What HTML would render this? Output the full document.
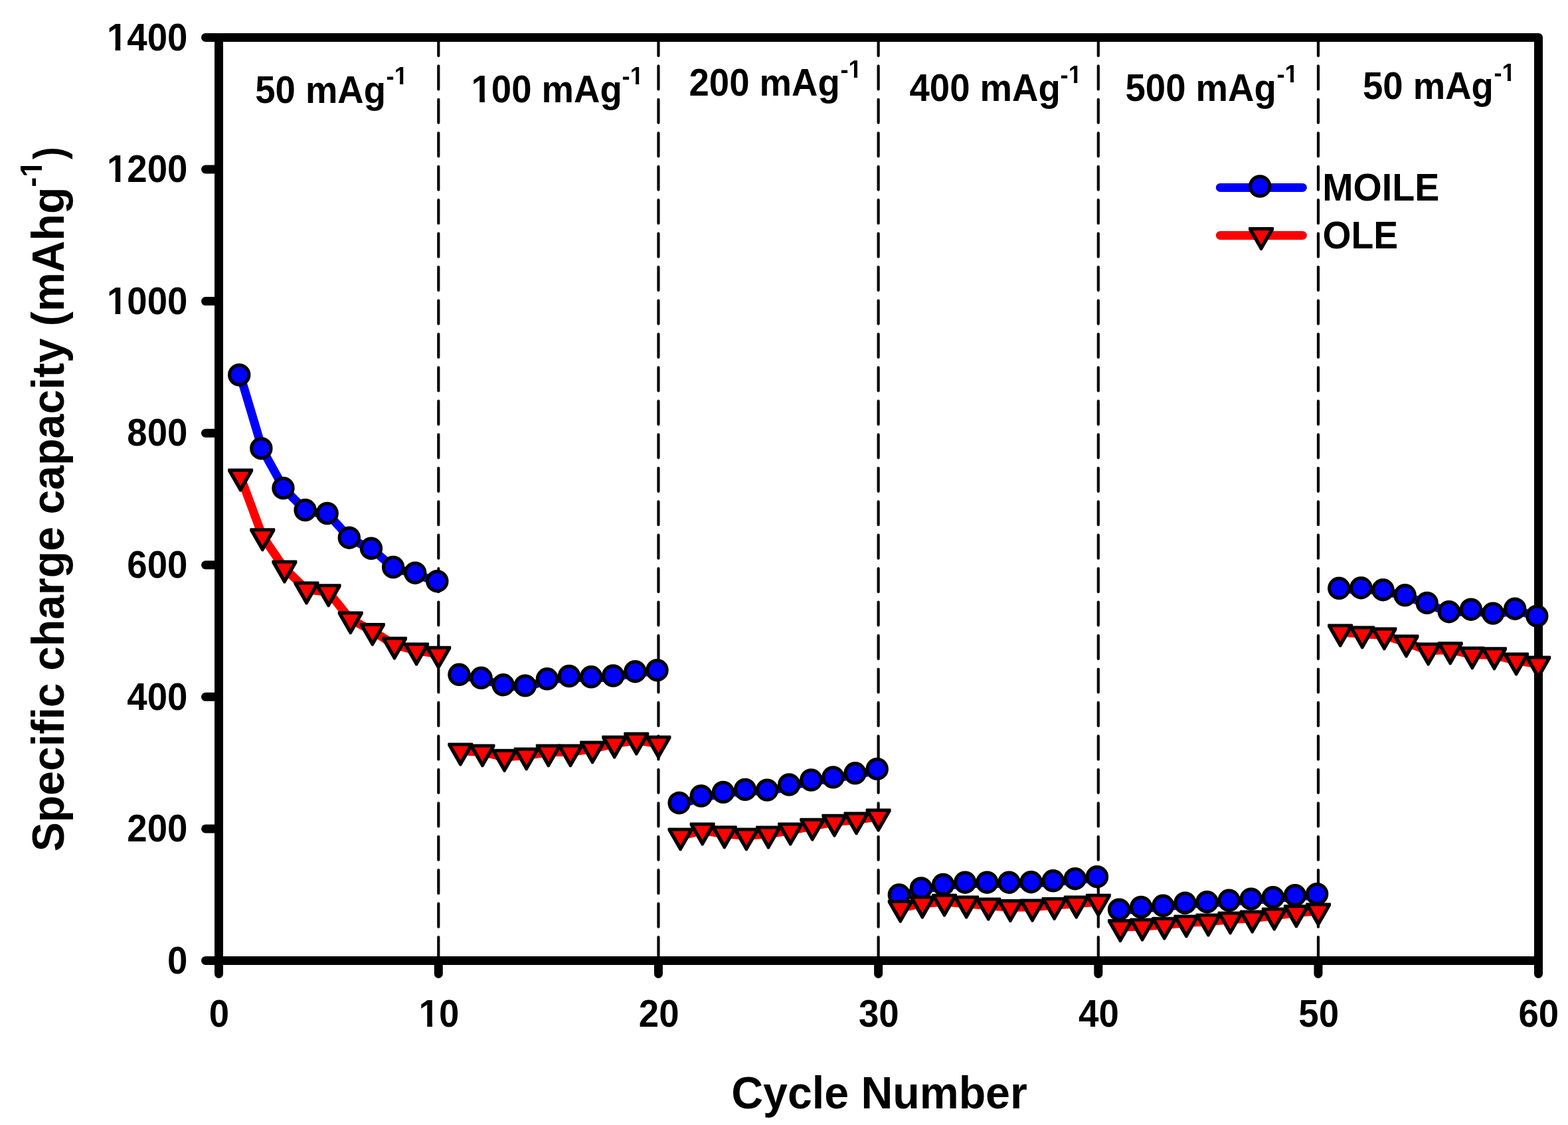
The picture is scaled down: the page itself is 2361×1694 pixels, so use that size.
<!DOCTYPE html>
<html lang="en"><head><meta charset="utf-8"><title>Rate capability: specific charge capacity vs cycle number</title>
<style>
html,body{margin:0;padding:0;background:#fff;}
body{width:2361px;height:1694px;overflow:hidden;}
svg{display:block;}
text{font-family:"Liberation Sans",Arial,Helvetica,sans-serif;font-weight:bold;font-kerning:none;fill:#000;}
</style></head><body>
<svg width="2361" height="1694" viewBox="0 0 2361 1694">
<rect width="2361" height="1694" fill="#fff"/>
<g stroke="#000" stroke-width="4.2" stroke-linecap="round" stroke-dasharray="35 15.45" stroke-dashoffset="3.05" fill="none">
<line x1="660.27" y1="52" x2="660.27" y2="1446.45"/>
<line x1="991.43" y1="52" x2="991.43" y2="1446.45"/>
<line x1="1322.6" y1="52" x2="1322.6" y2="1446.45"/>
<line x1="1653.77" y1="52" x2="1653.77" y2="1446.45"/>
<line x1="1984.93" y1="52" x2="1984.93" y2="1446.45"/>
</g>
<g stroke="#000" stroke-width="13" stroke-linecap="round" stroke-linejoin="round" fill="none">
<path d="M309.5 56.45 H2316.5 V1446.45 H309.5"/>
<path d="M329.5 56.45 V1466.45"/>
<path d="M309.5 255.02 H329.5"/>
<path d="M309.5 453.59 H329.5"/>
<path d="M309.5 652.16 H329.5"/>
<path d="M309.5 850.74 H329.5"/>
<path d="M309.5 1049.31 H329.5"/>
<path d="M309.5 1247.88 H329.5"/>
<path d="M660.27 1446.45 V1466.45"/>
<path d="M991.43 1446.45 V1466.45"/>
<path d="M1322.6 1446.45 V1466.45"/>
<path d="M1653.77 1446.45 V1466.45"/>
<path d="M1984.93 1446.45 V1466.45"/>
<path d="M2316.5 1446.45 V1466.45"/>
</g>
<g stroke="#00f" stroke-width="13" stroke-linecap="round" stroke-linejoin="round" fill="none">
<polyline points="362.12,566.35 395.24,677.05 428.36,736.85 461.48,769.85 494.6,774.85 527.72,811.55 560.84,827.65 593.96,855.85 627.08,864.55 660.2,877.05"/>
<polyline points="693.32,1017.65 726.44,1022.65 759.56,1033.15 792.68,1034.25 825.8,1024.15 858.92,1019.85 892.04,1021.15 925.16,1019.35 958.28,1013.05 991.4,1011.05"/>
<polyline points="1024.52,1210.85 1057.64,1200.35 1090.76,1194.75 1123.88,1190.75 1157,1191.45 1190.12,1183.35 1223.24,1176.35 1256.36,1172.25 1289.48,1166.15 1322.6,1159.75"/>
<polyline points="1355.72,1349.35 1388.84,1339.25 1421.96,1333.75 1455.08,1330.55 1488.2,1330.55 1521.32,1330.55 1554.44,1330.05 1587.56,1328.15 1620.68,1325.05 1653.8,1322.05"/>
<polyline points="1686.92,1371.55 1720.04,1367.85 1753.16,1365.65 1786.28,1361.55 1819.4,1360.05 1852.52,1357.65 1885.64,1355.45 1918.76,1353.05 1951.88,1349.95 1985,1347.95"/>
<polyline points="2018.12,887.65 2051.24,887.05 2084.36,890.05 2117.48,898.15 2150.6,909.75 2183.72,923.05 2216.84,919.55 2249.96,925.45 2283.08,918.55 2316.2,929.45"/>
</g>
<g fill="#00f" stroke="#000" stroke-width="5">
<circle cx="360.22" cy="564.5" r="14.7"/>
<circle cx="393.34" cy="675.2" r="14.7"/>
<circle cx="426.46" cy="735" r="14.7"/>
<circle cx="459.58" cy="768" r="14.7"/>
<circle cx="492.7" cy="773" r="14.7"/>
<circle cx="525.82" cy="809.7" r="14.7"/>
<circle cx="558.94" cy="825.8" r="14.7"/>
<circle cx="592.06" cy="854" r="14.7"/>
<circle cx="625.18" cy="862.7" r="14.7"/>
<circle cx="658.3" cy="875.2" r="14.7"/>
<circle cx="691.42" cy="1015.8" r="14.7"/>
<circle cx="724.54" cy="1020.8" r="14.7"/>
<circle cx="757.66" cy="1031.3" r="14.7"/>
<circle cx="790.78" cy="1032.4" r="14.7"/>
<circle cx="823.9" cy="1022.3" r="14.7"/>
<circle cx="857.02" cy="1018" r="14.7"/>
<circle cx="890.14" cy="1019.3" r="14.7"/>
<circle cx="923.26" cy="1017.5" r="14.7"/>
<circle cx="956.38" cy="1011.2" r="14.7"/>
<circle cx="989.5" cy="1009.2" r="14.7"/>
<circle cx="1022.62" cy="1209" r="14.7"/>
<circle cx="1055.74" cy="1198.5" r="14.7"/>
<circle cx="1088.86" cy="1192.9" r="14.7"/>
<circle cx="1121.98" cy="1188.9" r="14.7"/>
<circle cx="1155.1" cy="1189.6" r="14.7"/>
<circle cx="1188.22" cy="1181.5" r="14.7"/>
<circle cx="1221.34" cy="1174.5" r="14.7"/>
<circle cx="1254.46" cy="1170.4" r="14.7"/>
<circle cx="1287.58" cy="1164.3" r="14.7"/>
<circle cx="1320.7" cy="1157.9" r="14.7"/>
<circle cx="1353.82" cy="1347.5" r="14.7"/>
<circle cx="1386.94" cy="1337.4" r="14.7"/>
<circle cx="1420.06" cy="1331.9" r="14.7"/>
<circle cx="1453.18" cy="1328.7" r="14.7"/>
<circle cx="1486.3" cy="1328.7" r="14.7"/>
<circle cx="1519.42" cy="1328.7" r="14.7"/>
<circle cx="1552.54" cy="1328.2" r="14.7"/>
<circle cx="1585.66" cy="1326.3" r="14.7"/>
<circle cx="1618.78" cy="1323.2" r="14.7"/>
<circle cx="1651.9" cy="1320.2" r="14.7"/>
<circle cx="1685.02" cy="1369.7" r="14.7"/>
<circle cx="1718.14" cy="1366" r="14.7"/>
<circle cx="1751.26" cy="1363.8" r="14.7"/>
<circle cx="1784.38" cy="1359.7" r="14.7"/>
<circle cx="1817.5" cy="1358.2" r="14.7"/>
<circle cx="1850.62" cy="1355.8" r="14.7"/>
<circle cx="1883.74" cy="1353.6" r="14.7"/>
<circle cx="1916.86" cy="1351.2" r="14.7"/>
<circle cx="1949.98" cy="1348.1" r="14.7"/>
<circle cx="1983.1" cy="1346.1" r="14.7"/>
<circle cx="2016.22" cy="885.8" r="14.7"/>
<circle cx="2049.34" cy="885.2" r="14.7"/>
<circle cx="2082.46" cy="888.2" r="14.7"/>
<circle cx="2115.58" cy="896.3" r="14.7"/>
<circle cx="2148.7" cy="907.9" r="14.7"/>
<circle cx="2181.82" cy="921.2" r="14.7"/>
<circle cx="2214.94" cy="917.7" r="14.7"/>
<circle cx="2248.06" cy="923.6" r="14.7"/>
<circle cx="2281.18" cy="916.7" r="14.7"/>
<circle cx="2314.3" cy="927.6" r="14.7"/>
</g>
<g stroke="#f00" stroke-width="13" stroke-linecap="round" stroke-linejoin="round" fill="none">
<polyline points="362.12,717.7 395.24,807.5 428.36,855.7 461.48,887.8 494.6,891.5 527.72,932.6 560.84,950.1 593.96,970.9 627.08,979.7 660.2,984.9"/>
<polyline points="693.32,1130.7 726.44,1132.6 759.56,1140 792.68,1137.6 825.8,1132.6 858.92,1132.6 892.04,1127.6 925.16,1119.7 958.28,1114.7 991.4,1119.7"/>
<polyline points="1024.52,1258.6 1057.64,1250.7 1090.76,1255.5 1123.88,1258.6 1157,1255.8 1190.12,1250.7 1223.24,1243.9 1256.36,1237.9 1289.48,1234.6 1322.6,1229.7"/>
<polyline points="1355.72,1367.1 1388.84,1360.7 1421.96,1357.9 1455.08,1360.7 1488.2,1363.8 1521.32,1366.2 1554.44,1365.8 1587.56,1363.1 1620.68,1360.7 1653.8,1357.9"/>
<polyline points="1686.92,1396.2 1720.04,1394.8 1753.16,1392.9 1786.28,1389.6 1819.4,1387.8 1852.52,1384.6 1885.64,1382.8 1918.76,1378.7 1951.88,1374.5 1985,1371.7"/>
<polyline points="2018.12,951.8 2051.24,954.6 2084.36,956.6 2117.48,967.7 2150.6,979.7 2183.72,978.5 2216.84,985.6 2249.96,986.5 2283.08,994.8 2316.2,999.8"/>
</g>
<g>
<g fill="#000"><polygon points="343.12,706.3 344.02,705.5 380.22,705.5 381.12,706.3 381.12,709.7 363.42,740.4 360.82,740.4 343.12,709.7"/></g><g fill="#f00"><polygon points="349.82,710.5 374.42,710.5 362.12,731.8"/></g>
<g fill="#000"><polygon points="376.24,796.1 377.14,795.3 413.34,795.3 414.24,796.1 414.24,799.5 396.54,830.2 393.94,830.2 376.24,799.5"/></g><g fill="#f00"><polygon points="382.94,800.3 407.54,800.3 395.24,821.6"/></g>
<g fill="#000"><polygon points="409.36,844.3 410.26,843.5 446.46,843.5 447.36,844.3 447.36,847.7 429.66,878.4 427.06,878.4 409.36,847.7"/></g><g fill="#f00"><polygon points="416.06,848.5 440.66,848.5 428.36,869.8"/></g>
<g fill="#000"><polygon points="442.48,876.4 443.38,875.6 479.58,875.6 480.48,876.4 480.48,879.8 462.78,910.5 460.18,910.5 442.48,879.8"/></g><g fill="#f00"><polygon points="449.18,880.6 473.78,880.6 461.48,901.9"/></g>
<g fill="#000"><polygon points="475.6,880.1 476.5,879.3 512.7,879.3 513.6,880.1 513.6,883.5 495.9,914.2 493.3,914.2 475.6,883.5"/></g><g fill="#f00"><polygon points="482.3,884.3 506.9,884.3 494.6,905.6"/></g>
<g fill="#000"><polygon points="508.72,921.2 509.62,920.4 545.82,920.4 546.72,921.2 546.72,924.6 529.02,955.3 526.42,955.3 508.72,924.6"/></g><g fill="#f00"><polygon points="515.42,925.4 540.02,925.4 527.72,946.7"/></g>
<g fill="#000"><polygon points="541.84,938.7 542.74,937.9 578.94,937.9 579.84,938.7 579.84,942.1 562.14,972.8 559.54,972.8 541.84,942.1"/></g><g fill="#f00"><polygon points="548.54,942.9 573.14,942.9 560.84,964.2"/></g>
<g fill="#000"><polygon points="574.96,959.5 575.86,958.7 612.06,958.7 612.96,959.5 612.96,962.9 595.26,993.6 592.66,993.6 574.96,962.9"/></g><g fill="#f00"><polygon points="581.66,963.7 606.26,963.7 593.96,985"/></g>
<g fill="#000"><polygon points="608.08,968.3 608.98,967.5 645.18,967.5 646.08,968.3 646.08,971.7 628.38,1002.4 625.78,1002.4 608.08,971.7"/></g><g fill="#f00"><polygon points="614.78,972.5 639.38,972.5 627.08,993.8"/></g>
<g fill="#000"><polygon points="641.2,973.5 642.1,972.7 678.3,972.7 679.2,973.5 679.2,976.9 661.5,1007.6 658.9,1007.6 641.2,976.9"/></g><g fill="#f00"><polygon points="647.9,977.7 672.5,977.7 660.2,999"/></g>
<g fill="#000"><polygon points="674.32,1119.3 675.22,1118.5 711.42,1118.5 712.32,1119.3 712.32,1122.7 694.62,1153.4 692.02,1153.4 674.32,1122.7"/></g><g fill="#f00"><polygon points="681.02,1123.5 705.62,1123.5 693.32,1144.8"/></g>
<g fill="#000"><polygon points="707.44,1121.2 708.34,1120.4 744.54,1120.4 745.44,1121.2 745.44,1124.6 727.74,1155.3 725.14,1155.3 707.44,1124.6"/></g><g fill="#f00"><polygon points="714.14,1125.4 738.74,1125.4 726.44,1146.7"/></g>
<g fill="#000"><polygon points="740.56,1128.6 741.46,1127.8 777.66,1127.8 778.56,1128.6 778.56,1132 760.86,1162.7 758.26,1162.7 740.56,1132"/></g><g fill="#f00"><polygon points="747.26,1132.8 771.86,1132.8 759.56,1154.1"/></g>
<g fill="#000"><polygon points="773.68,1126.2 774.58,1125.4 810.78,1125.4 811.68,1126.2 811.68,1129.6 793.98,1160.3 791.38,1160.3 773.68,1129.6"/></g><g fill="#f00"><polygon points="780.38,1130.4 804.98,1130.4 792.68,1151.7"/></g>
<g fill="#000"><polygon points="806.8,1121.2 807.7,1120.4 843.9,1120.4 844.8,1121.2 844.8,1124.6 827.1,1155.3 824.5,1155.3 806.8,1124.6"/></g><g fill="#f00"><polygon points="813.5,1125.4 838.1,1125.4 825.8,1146.7"/></g>
<g fill="#000"><polygon points="839.92,1121.2 840.82,1120.4 877.02,1120.4 877.92,1121.2 877.92,1124.6 860.22,1155.3 857.62,1155.3 839.92,1124.6"/></g><g fill="#f00"><polygon points="846.62,1125.4 871.22,1125.4 858.92,1146.7"/></g>
<g fill="#000"><polygon points="873.04,1116.2 873.94,1115.4 910.14,1115.4 911.04,1116.2 911.04,1119.6 893.34,1150.3 890.74,1150.3 873.04,1119.6"/></g><g fill="#f00"><polygon points="879.74,1120.4 904.34,1120.4 892.04,1141.7"/></g>
<g fill="#000"><polygon points="906.16,1108.3 907.06,1107.5 943.26,1107.5 944.16,1108.3 944.16,1111.7 926.46,1142.4 923.86,1142.4 906.16,1111.7"/></g><g fill="#f00"><polygon points="912.86,1112.5 937.46,1112.5 925.16,1133.8"/></g>
<g fill="#000"><polygon points="939.28,1103.3 940.18,1102.5 976.38,1102.5 977.28,1103.3 977.28,1106.7 959.58,1137.4 956.98,1137.4 939.28,1106.7"/></g><g fill="#f00"><polygon points="945.98,1107.5 970.58,1107.5 958.28,1128.8"/></g>
<g fill="#000"><polygon points="972.4,1108.3 973.3,1107.5 1009.5,1107.5 1010.4,1108.3 1010.4,1111.7 992.7,1142.4 990.1,1142.4 972.4,1111.7"/></g><g fill="#f00"><polygon points="979.1,1112.5 1003.7,1112.5 991.4,1133.8"/></g>
<g fill="#000"><polygon points="1005.52,1247.2 1006.42,1246.4 1042.62,1246.4 1043.52,1247.2 1043.52,1250.6 1025.82,1281.3 1023.22,1281.3 1005.52,1250.6"/></g><g fill="#f00"><polygon points="1012.22,1251.4 1036.82,1251.4 1024.52,1272.7"/></g>
<g fill="#000"><polygon points="1038.64,1239.3 1039.54,1238.5 1075.74,1238.5 1076.64,1239.3 1076.64,1242.7 1058.94,1273.4 1056.34,1273.4 1038.64,1242.7"/></g><g fill="#f00"><polygon points="1045.34,1243.5 1069.94,1243.5 1057.64,1264.8"/></g>
<g fill="#000"><polygon points="1071.76,1244.1 1072.66,1243.3 1108.86,1243.3 1109.76,1244.1 1109.76,1247.5 1092.06,1278.2 1089.46,1278.2 1071.76,1247.5"/></g><g fill="#f00"><polygon points="1078.46,1248.3 1103.06,1248.3 1090.76,1269.6"/></g>
<g fill="#000"><polygon points="1104.88,1247.2 1105.78,1246.4 1141.98,1246.4 1142.88,1247.2 1142.88,1250.6 1125.18,1281.3 1122.58,1281.3 1104.88,1250.6"/></g><g fill="#f00"><polygon points="1111.58,1251.4 1136.18,1251.4 1123.88,1272.7"/></g>
<g fill="#000"><polygon points="1138,1244.4 1138.9,1243.6 1175.1,1243.6 1176,1244.4 1176,1247.8 1158.3,1278.5 1155.7,1278.5 1138,1247.8"/></g><g fill="#f00"><polygon points="1144.7,1248.6 1169.3,1248.6 1157,1269.9"/></g>
<g fill="#000"><polygon points="1171.12,1239.3 1172.02,1238.5 1208.22,1238.5 1209.12,1239.3 1209.12,1242.7 1191.42,1273.4 1188.82,1273.4 1171.12,1242.7"/></g><g fill="#f00"><polygon points="1177.82,1243.5 1202.42,1243.5 1190.12,1264.8"/></g>
<g fill="#000"><polygon points="1204.24,1232.5 1205.14,1231.7 1241.34,1231.7 1242.24,1232.5 1242.24,1235.9 1224.54,1266.6 1221.94,1266.6 1204.24,1235.9"/></g><g fill="#f00"><polygon points="1210.94,1236.7 1235.54,1236.7 1223.24,1258"/></g>
<g fill="#000"><polygon points="1237.36,1226.5 1238.26,1225.7 1274.46,1225.7 1275.36,1226.5 1275.36,1229.9 1257.66,1260.6 1255.06,1260.6 1237.36,1229.9"/></g><g fill="#f00"><polygon points="1244.06,1230.7 1268.66,1230.7 1256.36,1252"/></g>
<g fill="#000"><polygon points="1270.48,1223.2 1271.38,1222.4 1307.58,1222.4 1308.48,1223.2 1308.48,1226.6 1290.78,1257.3 1288.18,1257.3 1270.48,1226.6"/></g><g fill="#f00"><polygon points="1277.18,1227.4 1301.78,1227.4 1289.48,1248.7"/></g>
<g fill="#000"><polygon points="1303.6,1218.3 1304.5,1217.5 1340.7,1217.5 1341.6,1218.3 1341.6,1221.7 1323.9,1252.4 1321.3,1252.4 1303.6,1221.7"/></g><g fill="#f00"><polygon points="1310.3,1222.5 1334.9,1222.5 1322.6,1243.8"/></g>
<g fill="#000"><polygon points="1336.72,1355.7 1337.62,1354.9 1373.82,1354.9 1374.72,1355.7 1374.72,1359.1 1357.02,1389.8 1354.42,1389.8 1336.72,1359.1"/></g><g fill="#f00"><polygon points="1343.42,1359.9 1368.02,1359.9 1355.72,1381.2"/></g>
<g fill="#000"><polygon points="1369.84,1349.3 1370.74,1348.5 1406.94,1348.5 1407.84,1349.3 1407.84,1352.7 1390.14,1383.4 1387.54,1383.4 1369.84,1352.7"/></g><g fill="#f00"><polygon points="1376.54,1353.5 1401.14,1353.5 1388.84,1374.8"/></g>
<g fill="#000"><polygon points="1402.96,1346.5 1403.86,1345.7 1440.06,1345.7 1440.96,1346.5 1440.96,1349.9 1423.26,1380.6 1420.66,1380.6 1402.96,1349.9"/></g><g fill="#f00"><polygon points="1409.66,1350.7 1434.26,1350.7 1421.96,1372"/></g>
<g fill="#000"><polygon points="1436.08,1349.3 1436.98,1348.5 1473.18,1348.5 1474.08,1349.3 1474.08,1352.7 1456.38,1383.4 1453.78,1383.4 1436.08,1352.7"/></g><g fill="#f00"><polygon points="1442.78,1353.5 1467.38,1353.5 1455.08,1374.8"/></g>
<g fill="#000"><polygon points="1469.2,1352.4 1470.1,1351.6 1506.3,1351.6 1507.2,1352.4 1507.2,1355.8 1489.5,1386.5 1486.9,1386.5 1469.2,1355.8"/></g><g fill="#f00"><polygon points="1475.9,1356.6 1500.5,1356.6 1488.2,1377.9"/></g>
<g fill="#000"><polygon points="1502.32,1354.8 1503.22,1354 1539.42,1354 1540.32,1354.8 1540.32,1358.2 1522.62,1388.9 1520.02,1388.9 1502.32,1358.2"/></g><g fill="#f00"><polygon points="1509.02,1359 1533.62,1359 1521.32,1380.3"/></g>
<g fill="#000"><polygon points="1535.44,1354.4 1536.34,1353.6 1572.54,1353.6 1573.44,1354.4 1573.44,1357.8 1555.74,1388.5 1553.14,1388.5 1535.44,1357.8"/></g><g fill="#f00"><polygon points="1542.14,1358.6 1566.74,1358.6 1554.44,1379.9"/></g>
<g fill="#000"><polygon points="1568.56,1351.7 1569.46,1350.9 1605.66,1350.9 1606.56,1351.7 1606.56,1355.1 1588.86,1385.8 1586.26,1385.8 1568.56,1355.1"/></g><g fill="#f00"><polygon points="1575.26,1355.9 1599.86,1355.9 1587.56,1377.2"/></g>
<g fill="#000"><polygon points="1601.68,1349.3 1602.58,1348.5 1638.78,1348.5 1639.68,1349.3 1639.68,1352.7 1621.98,1383.4 1619.38,1383.4 1601.68,1352.7"/></g><g fill="#f00"><polygon points="1608.38,1353.5 1632.98,1353.5 1620.68,1374.8"/></g>
<g fill="#000"><polygon points="1634.8,1346.5 1635.7,1345.7 1671.9,1345.7 1672.8,1346.5 1672.8,1349.9 1655.1,1380.6 1652.5,1380.6 1634.8,1349.9"/></g><g fill="#f00"><polygon points="1641.5,1350.7 1666.1,1350.7 1653.8,1372"/></g>
<g fill="#000"><polygon points="1667.92,1384.8 1668.82,1384 1705.02,1384 1705.92,1384.8 1705.92,1388.2 1688.22,1418.9 1685.62,1418.9 1667.92,1388.2"/></g><g fill="#f00"><polygon points="1674.62,1389 1699.22,1389 1686.92,1410.3"/></g>
<g fill="#000"><polygon points="1701.04,1383.4 1701.94,1382.6 1738.14,1382.6 1739.04,1383.4 1739.04,1386.8 1721.34,1417.5 1718.74,1417.5 1701.04,1386.8"/></g><g fill="#f00"><polygon points="1707.74,1387.6 1732.34,1387.6 1720.04,1408.9"/></g>
<g fill="#000"><polygon points="1734.16,1381.5 1735.06,1380.7 1771.26,1380.7 1772.16,1381.5 1772.16,1384.9 1754.46,1415.6 1751.86,1415.6 1734.16,1384.9"/></g><g fill="#f00"><polygon points="1740.86,1385.7 1765.46,1385.7 1753.16,1407"/></g>
<g fill="#000"><polygon points="1767.28,1378.2 1768.18,1377.4 1804.38,1377.4 1805.28,1378.2 1805.28,1381.6 1787.58,1412.3 1784.98,1412.3 1767.28,1381.6"/></g><g fill="#f00"><polygon points="1773.98,1382.4 1798.58,1382.4 1786.28,1403.7"/></g>
<g fill="#000"><polygon points="1800.4,1376.4 1801.3,1375.6 1837.5,1375.6 1838.4,1376.4 1838.4,1379.8 1820.7,1410.5 1818.1,1410.5 1800.4,1379.8"/></g><g fill="#f00"><polygon points="1807.1,1380.6 1831.7,1380.6 1819.4,1401.9"/></g>
<g fill="#000"><polygon points="1833.52,1373.2 1834.42,1372.4 1870.62,1372.4 1871.52,1373.2 1871.52,1376.6 1853.82,1407.3 1851.22,1407.3 1833.52,1376.6"/></g><g fill="#f00"><polygon points="1840.22,1377.4 1864.82,1377.4 1852.52,1398.7"/></g>
<g fill="#000"><polygon points="1866.64,1371.4 1867.54,1370.6 1903.74,1370.6 1904.64,1371.4 1904.64,1374.8 1886.94,1405.5 1884.34,1405.5 1866.64,1374.8"/></g><g fill="#f00"><polygon points="1873.34,1375.6 1897.94,1375.6 1885.64,1396.9"/></g>
<g fill="#000"><polygon points="1899.76,1367.3 1900.66,1366.5 1936.86,1366.5 1937.76,1367.3 1937.76,1370.7 1920.06,1401.4 1917.46,1401.4 1899.76,1370.7"/></g><g fill="#f00"><polygon points="1906.46,1371.5 1931.06,1371.5 1918.76,1392.8"/></g>
<g fill="#000"><polygon points="1932.88,1363.1 1933.78,1362.3 1969.98,1362.3 1970.88,1363.1 1970.88,1366.5 1953.18,1397.2 1950.58,1397.2 1932.88,1366.5"/></g><g fill="#f00"><polygon points="1939.58,1367.3 1964.18,1367.3 1951.88,1388.6"/></g>
<g fill="#000"><polygon points="1966,1360.3 1966.9,1359.5 2003.1,1359.5 2004,1360.3 2004,1363.7 1986.3,1394.4 1983.7,1394.4 1966,1363.7"/></g><g fill="#f00"><polygon points="1972.7,1364.5 1997.3,1364.5 1985,1385.8"/></g>
<g fill="#000"><polygon points="1999.12,940.4 2000.02,939.6 2036.22,939.6 2037.12,940.4 2037.12,943.8 2019.42,974.5 2016.82,974.5 1999.12,943.8"/></g><g fill="#f00"><polygon points="2005.82,944.6 2030.42,944.6 2018.12,965.9"/></g>
<g fill="#000"><polygon points="2032.24,943.2 2033.14,942.4 2069.34,942.4 2070.24,943.2 2070.24,946.6 2052.54,977.3 2049.94,977.3 2032.24,946.6"/></g><g fill="#f00"><polygon points="2038.94,947.4 2063.54,947.4 2051.24,968.7"/></g>
<g fill="#000"><polygon points="2065.36,945.2 2066.26,944.4 2102.46,944.4 2103.36,945.2 2103.36,948.6 2085.66,979.3 2083.06,979.3 2065.36,948.6"/></g><g fill="#f00"><polygon points="2072.06,949.4 2096.66,949.4 2084.36,970.7"/></g>
<g fill="#000"><polygon points="2098.48,956.3 2099.38,955.5 2135.58,955.5 2136.48,956.3 2136.48,959.7 2118.78,990.4 2116.18,990.4 2098.48,959.7"/></g><g fill="#f00"><polygon points="2105.18,960.5 2129.78,960.5 2117.48,981.8"/></g>
<g fill="#000"><polygon points="2131.6,968.3 2132.5,967.5 2168.7,967.5 2169.6,968.3 2169.6,971.7 2151.9,1002.4 2149.3,1002.4 2131.6,971.7"/></g><g fill="#f00"><polygon points="2138.3,972.5 2162.9,972.5 2150.6,993.8"/></g>
<g fill="#000"><polygon points="2164.72,967.1 2165.62,966.3 2201.82,966.3 2202.72,967.1 2202.72,970.5 2185.02,1001.2 2182.42,1001.2 2164.72,970.5"/></g><g fill="#f00"><polygon points="2171.42,971.3 2196.02,971.3 2183.72,992.6"/></g>
<g fill="#000"><polygon points="2197.84,974.2 2198.74,973.4 2234.94,973.4 2235.84,974.2 2235.84,977.6 2218.14,1008.3 2215.54,1008.3 2197.84,977.6"/></g><g fill="#f00"><polygon points="2204.54,978.4 2229.14,978.4 2216.84,999.7"/></g>
<g fill="#000"><polygon points="2230.96,975.1 2231.86,974.3 2268.06,974.3 2268.96,975.1 2268.96,978.5 2251.26,1009.2 2248.66,1009.2 2230.96,978.5"/></g><g fill="#f00"><polygon points="2237.66,979.3 2262.26,979.3 2249.96,1000.6"/></g>
<g fill="#000"><polygon points="2264.08,983.4 2264.98,982.6 2301.18,982.6 2302.08,983.4 2302.08,986.8 2284.38,1017.5 2281.78,1017.5 2264.08,986.8"/></g><g fill="#f00"><polygon points="2270.78,987.6 2295.38,987.6 2283.08,1008.9"/></g>
<g fill="#000"><polygon points="2297.2,988.4 2298.1,987.6 2334.3,987.6 2335.2,988.4 2335.2,991.8 2317.5,1022.5 2314.9,1022.5 2297.2,991.8"/></g><g fill="#f00"><polygon points="2303.9,992.6 2328.5,992.6 2316.2,1013.9"/></g>
</g>
<g stroke-width="13" stroke-linecap="round" fill="none">
<line x1="1837.3" y1="282.45" x2="1961.3" y2="282.45" stroke="#00f"/>
<line x1="1837.3" y1="354.4" x2="1961.3" y2="354.4" stroke="#f00"/>
</g>
<g fill="#00f" stroke="#000" stroke-width="5"><circle cx="1897.1" cy="280.5" r="14.7"/></g>
<g fill="#000"><polygon points="1880,342.8 1880.9,342 1917.1,342 1918,342.8 1918,346.2 1900.3,376.9 1897.7,376.9 1880,346.2"/></g><g fill="#f00"><polygon points="1886.7,347 1911.3,347 1899,368.3"/></g>
<text transform="translate(1991.3 301.9) scale(0.9924 1.0360)" font-size="56">MOILE</text>
<text transform="translate(1991.55 373.85) scale(0.9870 1.0360)" font-size="56">OLE</text>
<text transform="translate(384.16 155) scale(0.9730 1.0330)" font-size="56">50 mAg</text>
<g transform="translate(581.59 126.9) scale(0.9800 1.0100)"><text font-size="37" clip-path="url(#c1)">-1</text></g>
<g transform="translate(709.55 153.95) scale(0.9730 1.0330)"><text font-size="56" clip-path="url(#c2)">100 mAg</text></g>
<g transform="translate(936.59 126.8) scale(0.9800 1.0100)"><text font-size="37" clip-path="url(#c1)">-1</text></g>
<text transform="translate(1037.55 143.95) scale(0.9730 1.0330)" font-size="56">200 mAg</text>
<g transform="translate(1265.39 116.8) scale(0.9800 1.0100)"><text font-size="37" clip-path="url(#c1)">-1</text></g>
<text transform="translate(1369.55 151.9) scale(0.9730 1.0330)" font-size="56">400 mAg</text>
<g transform="translate(1596.59 124.75) scale(0.9800 1.0100)"><text font-size="37" clip-path="url(#c1)">-1</text></g>
<text transform="translate(1694.55 151.9) scale(0.9730 1.0330)" font-size="56">500 mAg</text>
<g transform="translate(1922.49 123.9) scale(0.9800 1.0100)"><text font-size="37" clip-path="url(#c1)">-1</text></g>
<text transform="translate(2052.06 148.95) scale(0.9730 1.0330)" font-size="56">50 mAg</text>
<g transform="translate(2249.49 121.8) scale(0.9800 1.0100)"><text font-size="37" clip-path="url(#c1)">-1</text></g>
<g transform="translate(282.4 75.65) scale(0.9750 1.0400)"><text font-size="56" text-anchor="end" clip-path="url(#c3)">1400</text></g>
<g transform="translate(282.4 274.22) scale(0.9750 1.0400)"><text font-size="56" text-anchor="end" clip-path="url(#c3)">1200</text></g>
<g transform="translate(282.4 472.79) scale(0.9750 1.0400)"><text font-size="56" text-anchor="end" clip-path="url(#c3)">1000</text></g>
<text transform="translate(282.4 671.36) scale(0.9750 1.0400)" font-size="56" text-anchor="end">800</text>
<text transform="translate(282.4 869.94) scale(0.9750 1.0400)" font-size="56" text-anchor="end">600</text>
<text transform="translate(282.4 1068.51) scale(0.9750 1.0400)" font-size="56" text-anchor="end">400</text>
<text transform="translate(282.4 1267.08) scale(0.9750 1.0400)" font-size="56" text-anchor="end">200</text>
<text transform="translate(282.4 1465.65) scale(0.9750 1.0400)" font-size="56" text-anchor="end">0</text>
<text transform="translate(329.8 1545.8) scale(0.9750 1.0400)" font-size="56" text-anchor="middle">0</text>
<g transform="translate(660.97 1545.8) scale(0.9750 1.0400)"><text font-size="56" text-anchor="middle" clip-path="url(#c4)">10</text></g>
<text transform="translate(992.13 1545.8) scale(0.9750 1.0400)" font-size="56" text-anchor="middle">20</text>
<text transform="translate(1323.3 1545.8) scale(0.9750 1.0400)" font-size="56" text-anchor="middle">30</text>
<text transform="translate(1654.47 1545.8) scale(0.9750 1.0400)" font-size="56" text-anchor="middle">40</text>
<text transform="translate(1985.63 1545.8) scale(0.9750 1.0400)" font-size="56" text-anchor="middle">50</text>
<text transform="translate(2316.8 1545.8) scale(0.9750 1.0400)" font-size="56" text-anchor="middle">60</text>
<text transform="translate(1101.25 1669) scale(0.9964 1.0300)" font-size="66.5">Cycle Number</text>
<text transform="translate(95.9 1282.3) rotate(-90) scale(0.9956 1.0300)" font-size="66.5">Specific charge capacity (mAhg</text>
<g transform="translate(63.1 281.65) rotate(-90) scale(1.0000 1.0430)"><text font-size="45" clip-path="url(#c5)">-1</text></g>
<text transform="translate(95.9 240) rotate(-90) scale(0.8520 0.9750)" font-size="66.5">)</text>
<clipPath id="c1" clipPathUnits="userSpaceOnUse"><path clip-rule="evenodd" d="M-400 -200H1400V200H-400ZM13.06 -4.38H20.86V3H13.06ZM26.13 -4.38H32.38V3H26.13Z"/></clipPath>
<clipPath id="c2" clipPathUnits="userSpaceOnUse"><path clip-rule="evenodd" d="M-400 -200H1400V200H-400ZM1.12 -6.31H12.97V3H1.12ZM20.85 -6.31H30.35V3H20.85Z"/></clipPath>
<clipPath id="c3" clipPathUnits="userSpaceOnUse"><path clip-rule="evenodd" d="M-400 -200H1400V200H-400ZM-123.46 -6.31H-111.61V3H-123.46ZM-103.72 -6.31H-94.23V3H-103.72Z"/></clipPath>
<clipPath id="c4" clipPathUnits="userSpaceOnUse"><path clip-rule="evenodd" d="M-400 -200H1400V200H-400ZM-30.02 -6.31H-18.17V3H-30.02ZM-10.29 -6.31H-0.79V3H-10.29Z"/></clipPath>
<clipPath id="c5" clipPathUnits="userSpaceOnUse"><path clip-rule="evenodd" d="M-400 -200H1400V200H-400ZM15.89 -5.19H25.39V3H15.89ZM31.76 -5.19H39.38V3H31.76Z"/></clipPath>
</svg>
</body></html>
